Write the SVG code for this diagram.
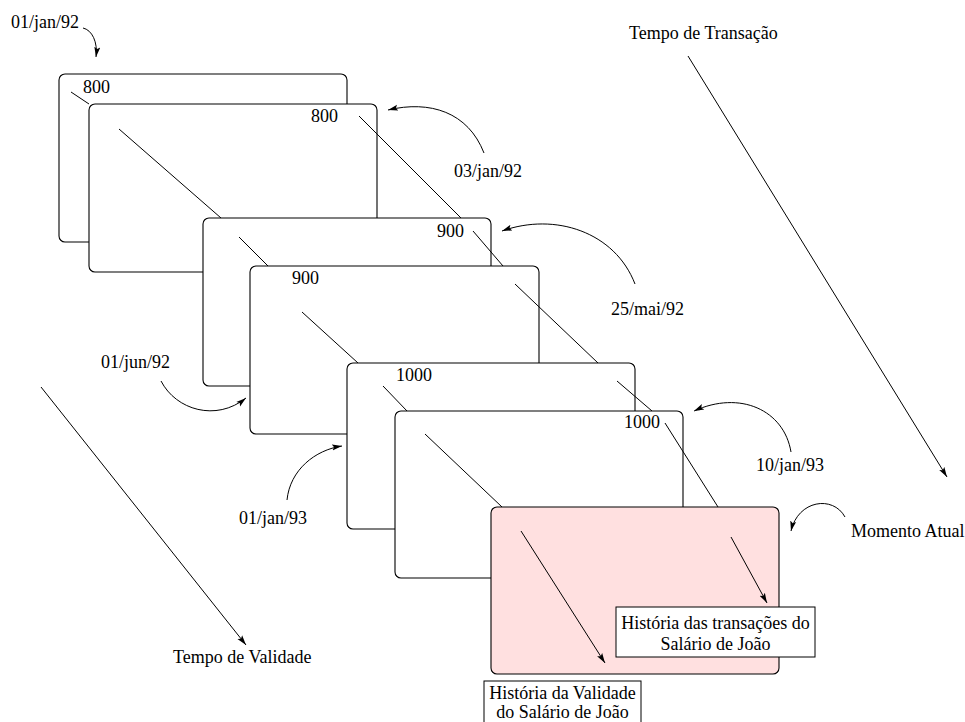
<svg xmlns="http://www.w3.org/2000/svg" width="965" height="722" viewBox="0 0 965 722">
<defs>
<style>
text{font-family:"Liberation Serif","Times New Roman",serif;font-size:18px;fill:#000}
.box{fill:#fff;stroke:#000;stroke-width:1.1}
.cur{fill:#ffe0e0;stroke:#000;stroke-width:1.1}
.ln{stroke:#000;stroke-width:1;fill:none}
.arr{stroke:#000;stroke-width:1;fill:none;marker-end:url(#ah)}
.lbl{fill:#fff;stroke:#000;stroke-width:1}
</style>
<marker id="ah" markerWidth="12" markerHeight="8" refX="10" refY="4" orient="auto" markerUnits="userSpaceOnUse">
<path d="M0,1 L10,4 L0,7 L2,4 z" fill="#000"/>
</marker>
</defs>
<rect width="965" height="722" fill="#fff"/>
<g id="boxA">
<rect class="box" x="59" y="74" width="288" height="168" rx="6"/>
<text x="83" y="93">800</text>
<line class="ln" x1="71" y1="92" x2="89" y2="104"/>
</g>
<g id="boxB">
<rect class="box" x="89" y="104" width="288" height="168" rx="6"/>
<text x="311" y="122">800</text>
<line class="ln" x1="119" y1="129" x2="221" y2="218"/>
<line class="ln" x1="359" y1="116" x2="461" y2="218"/>
</g>
<g id="boxC">
<rect class="box" x="203" y="218" width="288" height="168" rx="6"/>
<text x="437" y="237">900</text>
<line class="ln" x1="239" y1="237" x2="268" y2="266"/>
<line class="ln" x1="473" y1="231" x2="503" y2="266"/>
</g>
<g id="boxD">
<rect class="box" x="250" y="266" width="289" height="168" rx="6"/>
<text x="292" y="284">900</text>
<line class="ln" x1="302" y1="312" x2="358" y2="363"/>
<line class="ln" x1="515" y1="284" x2="598" y2="363"/>
</g>
<g id="boxE">
<rect class="box" x="347" y="363" width="288" height="166" rx="6"/>
<text x="396" y="381">1000</text>
<line class="ln" x1="383" y1="386" x2="407" y2="411"/>
<line class="ln" x1="617" y1="381" x2="652" y2="411"/>
</g>
<g id="boxF">
<rect class="box" x="395" y="411" width="288" height="167" rx="6"/>
<text x="624" y="428">1000</text>
<line class="ln" x1="425" y1="434" x2="502" y2="507"/>
<line class="ln" x1="665" y1="423" x2="718" y2="507"/>
</g>
<g id="boxG">
<rect class="cur" x="491" y="507" width="288" height="167" rx="6"/>
</g>
<g id="connectors">
<path class="arr" d="M83,28 C92,30 98,42 96,57"/>
<path class="arr" d="M484,153 C468,112 430,100 388,110"/>
<path class="arr" d="M635,284 C615,232 555,212 502,231"/>
<path class="arr" d="M161,381 C176,410 216,422 246,398"/>
<path class="arr" d="M287,500 C290,470 315,450 342,446"/>
<path class="arr" d="M791,452 C784,410 740,390 694,411"/>
<path class="arr" d="M845,517 C833,495 798,500 791,531"/>
<line class="arr" x1="688" y1="56" x2="947" y2="477"/>
<line class="arr" x1="41" y1="387" x2="246" y2="645"/>
<line class="arr" x1="521" y1="531" x2="605" y2="663"/>
<line class="arr" x1="731" y1="537" x2="767" y2="603"/>
</g>
<g id="labels">
<text x="11" y="28">01/jan/92</text>
<text x="629" y="39">Tempo de Transação</text>
<text x="454" y="177">03/jan/92</text>
<text x="611" y="315">25/mai/92</text>
<text x="101" y="368">01/jun/92</text>
<text x="239" y="524">01/jan/93</text>
<text x="756" y="471">10/jan/93</text>
<text x="851" y="537">Momento Atual</text>
<text x="173" y="663">Tempo de Validade</text>
</g>
<g id="noteTrans">
<rect class="lbl" x="616" y="607" width="199" height="50"/>
<text x="715.5" y="629" text-anchor="middle">História das transações do</text>
<text x="715.5" y="650" text-anchor="middle">Salário de João</text>
</g>
<g id="noteValid">
<rect class="lbl" x="484" y="681" width="157" height="50"/>
<text x="562.5" y="699" text-anchor="middle">História da Validade</text>
<text x="562.5" y="718" text-anchor="middle">do Salário de João</text>
</g>
</svg>
